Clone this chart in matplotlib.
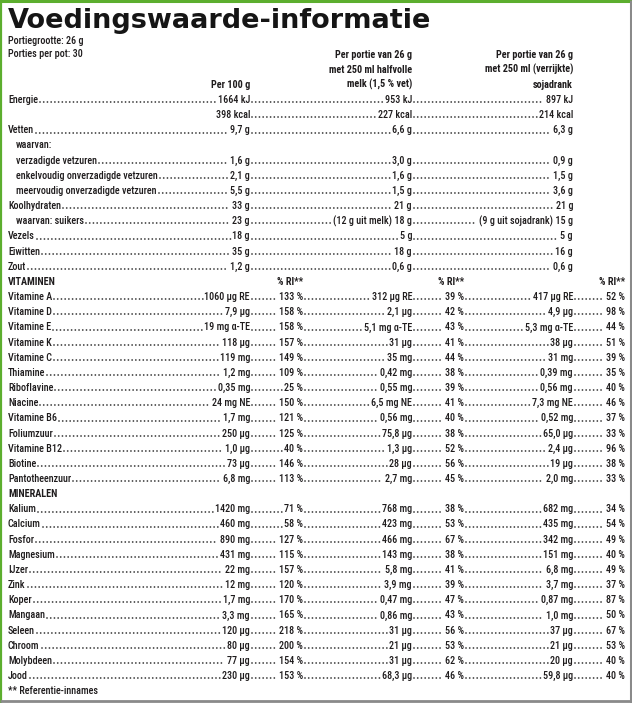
import matplotlib
matplotlib.use("Agg")
import matplotlib.pyplot as plt
from matplotlib import font_manager

# ---- content -------------------------------------------------------------
title = "Voedingswaarde-informatie"
portie_lines = ["Portiegrootte: 26 g", "Porties per pot: 30"]
head_100 = ["Per 100 g"]
head_melk = ["Per portie van 26 g", "met 250 ml halfvolle", "melk (1,5 % vet)"]
head_soja = ["Per portie van 26 g", "met 250 ml (verrijkte)", "sojadrank"]
ri_header = "% RI**"
footnote = "** Referentie-innames"

macro_labels = ["Energie", "", "Vetten", "waarvan:", "verzadigde vetzuren",
                "enkelvoudig onverzadigde vetzuren", "meervoudig onverzadigde vetzuren",
                "Koolhydraten", "waarvan: suikers", "Vezels", "Eiwitten", "Zout"]
macro_indent = [0, 0, 0, 1, 1, 1, 1, 0, 1, 0, 0, 0]
macro_100 = ["1664 kJ", "398 kcal", "9,7 g", "", "1,6 g", "2,1 g", "5,5 g",
             "33 g", "23 g", "18 g", "35 g", "1,2 g"]
macro_melk = ["953 kJ", "227 kcal", "6,6 g", "", "3,0 g", "1,6 g", "1,5 g",
              "21 g", "(12 g uit melk) 18 g", "5 g", "18 g", "0,6 g"]
macro_soja = ["897 kJ", "214 kcal", "6,3 g", "", "0,9 g", "1,5 g", "3,6 g",
              "21 g", "(9 g uit sojadrank) 15 g", "5 g", "16 g", "0,6 g"]

vit_title = "VITAMINEN"
vit_labels = ["Vitamine A", "Vitamine D", "Vitamine E", "Vitamine K", "Vitamine C",
              "Thiamine", "Riboflavine", "Niacine", "Vitamine B6", "Foliumzuur",
              "Vitamine B12", "Biotine", "Pantotheenzuur"]
vit_100 = ["1060 µg RE", "7,9 µg", "19 mg α-TE", "118 µg", "119 mg", "1,2 mg",
           "0,35 mg", "24 mg NE", "1,7 mg", "250 µg", "1,0 µg", "73 µg", "6,8 mg"]
vit_ri_100 = [133, 158, 158, 157, 149, 109, 25, 150, 121, 125, 40, 146, 113]
vit_melk = ["312 µg RE", "2,1 µg", "5,1 mg α-TE", "31 µg", "35 mg", "0,42 mg",
            "0,55 mg", "6,5 mg NE", "0,56 mg", "75,8 µg", "1,3 µg", "28 µg", "2,7 mg"]
vit_ri_melk = [39, 42, 43, 41, 44, 38, 39, 41, 40, 38, 52, 56, 45]
vit_soja = ["417 µg RE", "4,9 µg", "5,3 mg α-TE", "38 µg", "31 mg", "0,39 mg",
            "0,56 mg", "7,3 mg NE", "0,52 mg", "65,0 µg", "2,4 µg", "19 µg", "2,0 mg"]
vit_ri_soja = [52, 98, 44, 51, 39, 35, 40, 46, 37, 33, 96, 38, 33]

min_title = "MINERALEN"
min_labels = ["Kalium", "Calcium", "Fosfor", "Magnesium", "IJzer", "Zink", "Koper",
              "Mangaan", "Seleen", "Chroom", "Molybdeen", "Jood"]
min_100 = ["1420 mg", "460 mg", "890 mg", "431 mg", "22 mg", "12 mg", "1,7 mg",
           "3,3 mg", "120 µg", "80 µg", "77 µg", "230 µg"]
min_ri_100 = [71, 58, 127, 115, 157, 120, 170, 165, 218, 200, 154, 153]
min_melk = ["768 mg", "423 mg", "466 mg", "143 mg", "5,8 mg", "3,9 mg", "0,47 mg",
            "0,86 mg", "31 µg", "21 µg", "31 µg", "68,3 µg"]
min_ri_melk = [38, 53, 67, 38, 41, 39, 47, 43, 56, 53, 62, 46]
min_soja = ["682 mg", "435 mg", "342 mg", "151 mg", "6,8 mg", "3,7 mg", "0,87 mg",
            "1,0 mg", "37 µg", "21 µg", "20 µg", "59,8 µg"]
min_ri_soja = [34, 54, 49, 40, 49, 37, 87, 50, 67, 53, 40, 40]

# ---- layout (pixels) -----------------------------------------------------
W, H = 632, 703
X_LABEL, X_INDENT = 8, 16
X_COLS = [250, 303, 412, 464, 573, 625]   # value / %RI right edges
Y0, DY = 103, 15.16
INK = "#1f1c1d"
GREEN = "#5cae2e"

# pick a narrow/condensed face if one is installed
entries = font_manager.fontManager.ttflist
names = {f.name for f in entries}
BODY, STRETCH = ["Roboto", "DejaVu Sans"], "normal"
for cand in ["Liberation Sans Narrow", "Roboto Condensed", "Open Sans Condensed",
             "Noto Sans Condensed", "DejaVu Sans Condensed"]:
    if cand in names:
        BODY = [cand, "DejaVu Sans"]
        break
else:
    cond = [f for f in entries if str(f.stretch) in ("condensed", "semi-condensed")]
    if cond:
        BODY, STRETCH = [cond[0].name, "DejaVu Sans"], "condensed"

fig = plt.figure(figsize=(W / 100, H / 100), dpi=100)
ax = fig.add_axes([0, 0, 1, 1])
ax.set_xlim(0, W)
ax.set_ylim(H, 0)
ax.axis("off")

# size the body font so a long label has the reference width
probe = ax.text(0, 0, "enkelvoudig onverzadigde vetzuren", fontsize=10,
                family=BODY, stretch=STRETCH, weight=500)
fig.canvas.draw()
rend = fig.canvas.get_renderer()
FS = min(10 * 143 / probe.get_window_extent(rend).width, 8.6)
probe.remove()


def txt(x, y, s, ha="left", bold=False):
    return ax.text(x, y, s, ha=ha, va="baseline", fontsize=FS, color=INK,
                   family=BODY, stretch=STRETCH, weight="bold" if bold else 500)


def base(i):
    return Y0 + i * DY


# title
t_title = ax.text(8, 28, title, ha="left", va="baseline", fontsize=20,
                  color="#151515", family="DejaVu Sans", weight="bold")
for k, s in enumerate(portie_lines):
    txt(X_LABEL, 44 + k * 13.3, s)

# column headers
for k, s in enumerate(head_100):
    txt(X_COLS[0], base(-1), s, ha="right", bold=True)
for k, s in enumerate(head_melk):
    txt(X_COLS[2], base(k - 3), s, ha="right", bold=True)
for k, s in enumerate(head_soja):
    txt(X_COLS[4], base(k - 3), s, ha="right", bold=True)

rows = []   # text objects per row, left to right
for i, lab in enumerate(macro_labels):
    y = base(i)
    items = [txt(X_INDENT if macro_indent[i] else X_LABEL, y, lab) if lab else None]
    for x, v in zip([X_COLS[0], X_COLS[2], X_COLS[4]],
                    [macro_100[i], macro_melk[i], macro_soja[i]]):
        if v:
            items.append(txt(x, y, v, ha="right"))
    rows.append(items)

r = len(macro_labels)


def section(r, head, labels, v100, ri100, vm, rim, vs, ris, ri_cols):
    txt(X_LABEL, base(r), head, bold=True)
    if ri_cols:
        for x in (X_COLS[1], X_COLS[3], X_COLS[5]):
            txt(x, base(r), ri_header, ha="right", bold=True)
    r += 1
    for i, lab in enumerate(labels):
        y = base(r)
        items = [txt(X_LABEL, y, lab)]
        vals = [v100[i], f"{ri100[i]} %", vm[i], f"{rim[i]} %", vs[i], f"{ris[i]} %"]
        for x, v in zip(X_COLS, vals):
            items.append(txt(x, y, v, ha="right"))
        rows.append(items)
        r += 1
    return r


r = section(r, vit_title, vit_labels, vit_100, vit_ri_100, vit_melk, vit_ri_melk,
            vit_soja, vit_ri_soja, True)
r = section(r, min_title, min_labels, min_100, min_ri_100, min_melk, min_ri_melk,
            min_soja, min_ri_soja, False)
txt(X_LABEL, base(r), footnote)

# fit title width, then dotted leaders from measured text extents
fig.canvas.draw()
w = t_title.get_window_extent(rend).width
t_title.set_fontsize(20 * 424 / w)

for items in rows:
    for a, b in zip(items[:-1], items[1:]):
        if a is None or b is None:
            continue
        x0 = a.get_window_extent(rend).x1 + 2
        x1 = b.get_window_extent(rend).x0 - 2
        if x1 - x0 < 3:
            continue
        y = a.get_position()[1] - 0.8
        ax.plot([x0, x1], [y, y], color="#3a3a3a", lw=1.3, linestyle=(0, (0.01, 2.05)),
                dash_capstyle="round")

# frame
ax.plot([0, W], [1, 1], color=GREEN, lw=2.2, solid_capstyle="butt")
ax.plot([1, 1], [0, H], color=GREEN, lw=1.6, solid_capstyle="butt")
ax.plot([W - 1.5, W - 1.5], [0, H], color="#8a8a8a", lw=2.2, solid_capstyle="butt")
ax.plot([0, W], [H - 2, H - 2], color="#8a8a8a", lw=2.0, solid_capstyle="butt")

fig.savefig("out.png", dpi=100)
